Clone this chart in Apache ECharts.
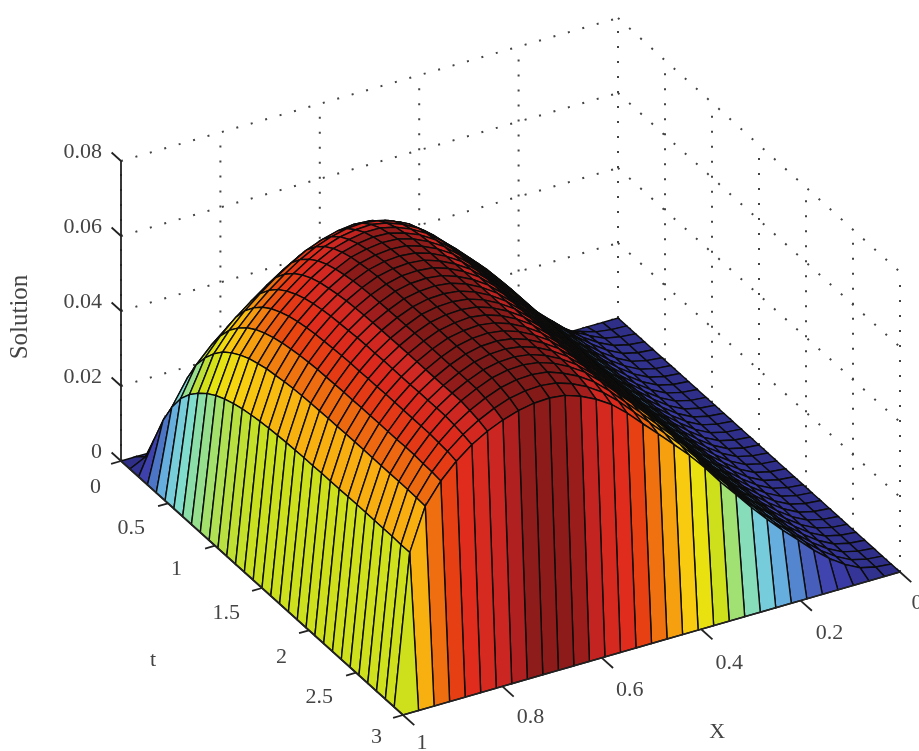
<!DOCTYPE html>
<html><head><meta charset="utf-8"><style>html,body{margin:0;background:#fff}#c{width:919px;height:751px}</style>
<script src="https://cdn.jsdelivr.net/npm/echarts@6/dist/echarts.min.js"></script></head>
<body><div id="c"></div><script>
// Surface heights, in units of 0.0001. Rows: t = 0..3, columns: X = 1..0 (32 steps each).
const tail=null;
const zRows=[
[0,0,0,0,0,0,0,0,0,0,0,0,0,0,0,0,0,0,0,0,0,0,0,0,0,0,0,0,0,0,0,0,0],
[0,20,27,33,38,43,49,55,62,68,75,82,88,94,99,104,106,108,110,110,109,105,102,95,89,79,65,49,33,21,8,2,0],
[0,88,118,136,152,167,183,199,214,227,239,251,260,268,273,274,271,266,260,252,240,222,206,185,163,139,111,81,53,31,12,4,0],
[0,159,209,238,262,284,306,328,348,365,379,392,400,405,407,402,390,376,360,342,319,289,260,227,195,162,128,92,60,34,14,4,0],
[0,216,282,319,349,375,401,425,448,465,480,492,498,499,495,483,464,444,420,394,363,324,288,248,210,172,135,96,63,35,14,4,0],
[0,260,338,380,415,444,473,499,522,540,553,563,566,563,554,536,511,484,455,424,386,342,301,257,215,175,137,98,63,35,14,4,0],
[0,292,378,425,463,495,525,552,576,593,605,613,612,606,593,570,540,509,476,440,399,351,307,261,218,176,137,98,63,35,14,4,0],
[0,317,410,461,501,535,566,593,616,632,643,648,645,635,618,592,558,524,487,449,406,356,310,262,218,176,138,98,64,35,14,4,0],
[0,337,436,488,530,565,596,623,645,660,670,673,667,654,635,605,569,533,494,454,409,358,311,263,219,177,138,98,64,35,14,4,0],
[0,353,455,510,553,588,619,645,667,681,688,690,682,667,645,614,576,538,498,456,411,359,312,263,219,177,138,98,64,35,14,4,0],
[0,365,470,526,570,605,636,662,683,695,702,702,692,675,652,619,580,540,500,458,411,359,312,263,219,177,138,98,64,35,14,4,0],
[0,374,482,538,582,618,649,674,694,705,711,709,698,681,656,622,582,542,501,458,412,359,312,263,219,177,138,98,64,35,14,4,0],
[0,381,490,547,592,628,658,682,702,712,717,715,703,684,659,624,583,543,501,459,412,359,312,263,219,177,138,98,64,35,14,4,0],
[0,386,497,554,599,635,664,688,707,717,721,718,705,686,660,625,584,543,502,459,412,359,312,263,219,177,138,98,64,35,14,4,0],
[0,390,501,559,604,640,669,693,711,721,724,720,707,687,661,625,584,543,502,459,412,359,312,263,219,177,138,98,64,35,14,4,0],
[0,393,505,563,608,644,673,696,714,723,726,722,708,688,662,626,585,544,502,459,412,359,312,263,219,177,138,98,64,35,14,4,0],
[0,395,508,566,610,646,675,698,715,725,727,723,709,689,662,626,585,544,502,459,412,359,312,263,219,177,138,98,64,35,14,4,0],
[0,397,510,568,612,648,677,699,717,726,728,723,709,689,662,626,585,544,502,459,412,359,312,263,219,177,138,98,64,35,14,4,0],
[0,398,511,569,614,650,678,700,718,726,729,724,710,689,662,626,585,544,502,459,412,359,312,263,219,177,138,98,64,35,14,4,0],
[0,399,512,570,615,651,679,701,718,727,729,724,710,689,662,626,585,544,502,459,412,359,312,263,219,177,138,98,64,35,14,4,0],
[0,399,513,571,615,651,679,701,719,727,729,724,710,689,662,626,585,544,502,459,412,359,312,263,219,177,138,98,64,35,14,4,0],
[0,400,513,571,616,652,680,702,719,727,729,724,710,689,662,626,585,544,502,459,412,359,312,263,219,177,138,98,64,35,14,4,0],
[0,400,514,572,616,652,680,702,719,727,730,724,710,689,662,626,585,544,502,459,412,359,312,263,219,177,138,98,64,35,14,4,0],
[0,400,514,572,617,652,680,702,719,727,730,724,710,689,662,626,585,544,502,459,412,359,312,263,219,177,138,98,64,35,14,4,0],
[0,401,514,572,617,652,680,702,719,728,730,724,710,689,662,626,585,544,502,459,412,359,312,263,219,177,138,98,64,35,14,4,0],
[0,401,514,572,617,653,680,702,719,728,730,724,710,689,662,626,585,544,502,459,412,359,312,263,219,177,138,98,64,35,14,4,0],
[0,401,514,572,617,653,680,702,719,728,730,724,710,689,662,626,585,544,502,459,412,359,312,263,219,177,138,98,64,35,14,4,0],
[0,401,514,573,617,653,681,702,719,728,730,724,710,689,662,626,585,544,502,459,412,359,312,263,219,177,138,98,64,35,14,4,0],
[0,401,514,573,617,653,681,702,719,728,730,724,710,689,662,626,585,544,502,459,412,359,312,263,219,177,138,98,64,35,14,4,0],
[0,401,514,571,615,650,677,698,714,723,725,720,705,685,658,622,581,540,499,456,410,358,311,262,218,176,137,98,63,35,14,4,0],
[0,400,513,570,613,646,672,692,707,715,717,712,698,678,651,616,575,535,494,452,406,355,309,261,217,175,137,98,63,35,14,4,0],
[0,400,512,567,608,640,664,682,695,703,705,700,686,666,640,605,565,526,486,445,400,350,305,258,215,174,136,97,63,35,14,4,0],
[0,0,0,0,0,0,0,0,0,0,0,0,0,0,0,0,0,0,0,0,0,0,0,0,0,0,0,0,0,0,0,0,0]
];
const xTicks=[1,.8,.6,.4,.2,0];
const tTicks=[0,.5,1,1.5,2,2.5,3];
const zTicks=[0,.02,.04,.06,.08];
const N=zRows.length-1;
const P=(X,t,z)=>[121+(1-X)*497+t*94,461-(1-X)*143+t*84.67-z*3750];
const stops=[[0,'#2f2f88'],[60,'#3a3aa4'],[110,'#4248b4'],[150,'#4a6cc0'],[190,'#5a98d8'],[240,'#72c4e2'],[290,'#80dcd0'],[340,'#98e088'],[390,'#c8e020'],[440,'#e8e410'],[480,'#f8d010'],[520,'#f8a810'],[560,'#f07810'],[600,'#e84412'],[640,'#e02c1c'],[680,'#d02822'],[695,'#b02020'],[703,'#8e1c1a'],[730,'#7a1a18']];
function color(v){for(let k=0;k<stops.length-1;k++){if(v<=stops[k+1][0]){const f=(v-stops[k][0])/(stops[k+1][0]-stops[k][0]);const a=echarts.color.parse(stops[k][1]),b=echarts.color.parse(stops[k+1][1]);return `rgb(${a[0]+f*(b[0]-a[0])|0},${a[1]+f*(b[1]-a[1])|0},${a[2]+f*(b[2]-a[2])|0})`;}}return stops[stops.length-1][1];}
const cells=[];for(let i=N-1;i>=0;i--)for(let j=0;j<N;j++)cells.push([i,j]);
const seg=[];
for(const t of tTicks)seg.push([0,t,0,0,t,.08]);
for(const z of zTicks){seg.push([0,0,z,0,3,z]);seg.push([1,0,z,0,0,z]);}
for(const X of xTicks)seg.push([X,0,0,X,0,.08]);
const solid=[[1,0,0,1,0,.08],[1,0,0,1,3,0],[1,3,0,0,3,0]];
for(const z of zTicks)solid.push([1,0,z,1,-.1,z]);
for(const t of tTicks)solid.push([1,t,0,1.02,t,0]);
for(const X of xTicks)solid.push([X,3,0,X,3.12,0]);
const lineItem=(style)=>(p,api)=>{const v=[0,1,2,3,4,5].map(k=>api.value(k));const a=api.coord(P(v[0],v[1],v[2])),b=api.coord(P(v[3],v[4],v[5]));return{type:'line',shape:{x1:a[0],y1:a[1],x2:b[0],y2:b[1]},style};};
const font={fontFamily:'Liberation Serif',fontSize:22,fill:'#444'};
const labels=[];
zTicks.forEach(z=>labels.push([String(z),...P(1,0,z),-19,-9,'right']));
const tOff=[[-20,26],[-23,25],[-33,24],[-22,25],[-22,27],[-23,25],[-21,22]];
tTicks.forEach((t,k)=>labels.push([String(t),...P(1,t,0),tOff[k][0],tOff[k][1],'right']));
const xOff=[[19,28],[28,31],[28,32],[28,34],[29,33],[17,31]];
xTicks.forEach((X,k)=>labels.push([String(X),...P(X,3,0),xOff[k][0],xOff[k][1],'center']));
labels.push(['t',...P(1,2,0),-156,30,'center']);
labels.push(['X',...P(.4,3,0),16,103,'center']);
const chart=echarts.init(document.getElementById('c'));
chart.setOption({animation:false,grid:{left:0,right:0,top:0,bottom:0},
xAxis:{type:'value',min:0,max:919,show:false},yAxis:{type:'value',min:0,max:751,inverse:true,show:false},
graphic:[{type:'text',rotation:Math.PI/2,x:20,y:317,style:{text:'Solution',fontFamily:'Liberation Serif',fontSize:25,fill:'#444',align:'center',verticalAlign:'middle'}}],
series:[
{type:'custom',coordinateSystem:'cartesian2d',silent:true,data:seg,renderItem:lineItem({stroke:'#444',lineWidth:2,lineDash:[2,13]})},
{type:'custom',coordinateSystem:'cartesian2d',silent:true,data:cells,renderItem:(p,api)=>{const i=api.value(0),j=api.value(1);
 const pt=(a,b)=>api.coord(P(1-a/N,b*3/N,zRows[b][a]/10000));
 const m=Math.max(zRows[j][i],zRows[j][i+1]);
 return{type:'polygon',shape:{points:[pt(i,j),pt(i+1,j),pt(i+1,j+1),pt(i,j+1)]},style:{fill:color(m),stroke:'#0c0c0c',lineWidth:1.4}};}},
{type:'custom',coordinateSystem:'cartesian2d',silent:true,data:solid,renderItem:lineItem({stroke:'#222',lineWidth:1.8})},
{type:'custom',coordinateSystem:'cartesian2d',silent:true,data:labels.map(l=>l.slice(1,5)),renderItem:(p,api)=>{const l=labels[p.dataIndex];const a=api.coord([l[1],l[2]]);return{type:'text',x:a[0]+l[3],y:a[1]+l[4],style:{...font,text:l[0],align:l[5],verticalAlign:'middle'}};}}
]});
</script></body></html>
